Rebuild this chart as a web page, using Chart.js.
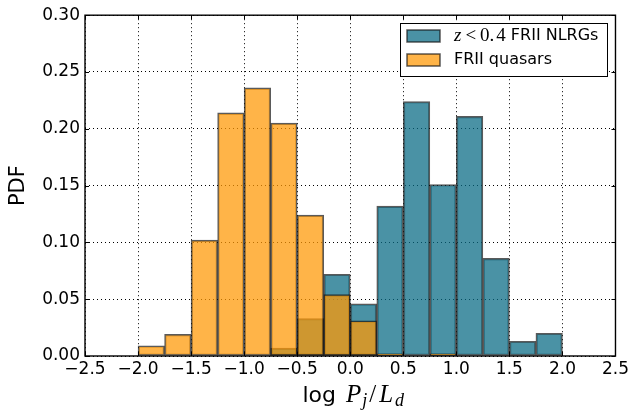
<!DOCTYPE html>
<html>
<head>
<meta charset="utf-8">
<script src="https://cdn.jsdelivr.net/npm/chart.js@4.4.0/dist/chart.umd.min.js"></script>
<style>
html, body { margin: 0; padding: 0; background: #fff; }
#wrap { width: 632px; height: 414px; }
</style>
</head>
<body>
<div id="wrap"><canvas id="pdfChart" width="632" height="414"></canvas></div>
<script>
// histogram bins (centres, width 0.25)
const binCenters = [-2.375, -2.125, -1.875, -1.625, -1.375, -1.125, -0.875, -0.625, -0.375, -0.125,
                    0.125, 0.375, 0.625, 0.875, 1.125, 1.375, 1.625, 1.875, 2.125, 2.375];
const nlrgPdf   = [null, null, null, null, null, null, null, 0.007, 0.033, 0.072,
                   0.046, 0.132, 0.224, 0.151, 0.211, 0.086, 0.013, 0.020, 0, 0];
const quasarPdf = [0, 0, 0.009, 0.019, 0.102, 0.214, 0.236, 0.205, 0.124, 0.054,
                   0.031, 0.002, null, 0.002, null, null, null, null, null, null];
const xTicks = [-2.5, -2.0, -1.5, -1.0, -0.5, 0.0, 0.5, 1.0, 1.5, 2.0, 2.5];
const yTicks = [0.00, 0.05, 0.10, 0.15, 0.20, 0.25, 0.30];

const blueFill = 'rgba(7,105,132,0.73)';
const orangeFill = 'rgba(255,152,4,0.73)';
const edge = 'rgba(20,20,20,0.7)';

function toPoints(vals) {
    return binCenters.map((x, i) => ({ x: x, y: vals[i] }));
}

function minus(v, digits) {
    return v.toFixed(digits).replace('-', '\u2212');
}

// draws a row of text pieces with their own fonts
function drawRuns(ctx, runs, x, y, centered) {
    let total = 0;
    runs.forEach(r => {
        ctx.font = r.font;
        r.w = ctx.measureText(r.text).width + (r.gap || 0);
        total += r.w;
    });
    let cx = centered ? x - total / 2 : x;
    runs.forEach(r => {
        ctx.font = r.font;
        ctx.fillText(r.text, cx, y + (r.dy || 0));
        cx += r.w;
    });
}

const framePlugin = {
    id: 'frame',
    afterDraw(chart) {
        const ctx = chart.ctx;
        const a = chart.chartArea;
        const xs = chart.scales.x, ys = chart.scales.y;
        ctx.save();

        // inward ticks
        ctx.strokeStyle = '#000';
        ctx.lineWidth = 1;
        ctx.beginPath();
        xTicks.forEach(v => {
            const px = Math.round(xs.getPixelForValue(v)) + 0.5;
            ctx.moveTo(px, a.bottom); ctx.lineTo(px, a.bottom - 4);
            ctx.moveTo(px, a.top); ctx.lineTo(px, a.top + 4);
        });
        yTicks.forEach(v => {
            const py = Math.round(ys.getPixelForValue(v)) + 0.5;
            ctx.moveTo(a.left, py); ctx.lineTo(a.left + 4, py);
            ctx.moveTo(a.right, py); ctx.lineTo(a.right - 4, py);
        });
        ctx.stroke();

        // frame
        ctx.lineWidth = 1.4;
        ctx.strokeStyle = '#000';
        ctx.strokeRect(a.left, a.top, a.right - a.left, a.bottom - a.top);

        // x title
        ctx.fillStyle = '#000';
        ctx.textBaseline = 'alphabetic';
        ctx.textAlign = 'left';
        drawRuns(ctx, [
            { text: 'log ', font: '22px "DejaVu Sans"', gap: 3 },
            { text: 'P', font: 'italic 25px "Liberation Serif"', gap: 1 },
            { text: 'j', font: 'italic 18px "Liberation Serif"', dy: 4, gap: 2 },
            { text: '/', font: '25px "Liberation Serif"', gap: 3 },
            { text: 'L', font: 'italic 25px "Liberation Serif"', gap: 2 },
            { text: 'd', font: 'italic 18px "Liberation Serif"', dy: 4 }
        ], (a.left + a.right) / 2 + 3, 402, true);

        // legend box
        const lx = 400, ly = 23, lw = 207, lh = 53;
        ctx.fillStyle = '#fff';
        ctx.fillRect(lx, ly, lw, lh);
        ctx.lineWidth = 1;
        ctx.strokeStyle = '#000';
        ctx.strokeRect(lx + 0.5, ly + 0.5, lw, lh);

        const rows = [
            { fill: blueFill, y: 36, runs: [
                { text: 'z', font: 'italic 19px "Liberation Serif"', gap: 4 },
                { text: '<', font: '19px "Liberation Serif"', gap: 4 },
                { text: '0.', font: '19px "Liberation Serif"', gap: 2 },
                { text: '4', font: '19px "Liberation Serif"', gap: 5 },
                { text: 'FRII NLRGs', font: '16px "DejaVu Sans"' }
            ] },
            { fill: orangeFill, y: 60, runs: [
                { text: 'FRII quasars', font: '16px "DejaVu Sans"' }
            ] }
        ];
        rows.forEach(r => {
            ctx.fillStyle = '#fff';
            ctx.fillRect(407, r.y - 6, 33, 12);
            ctx.fillStyle = r.fill;
            ctx.fillRect(407, r.y - 6, 33, 12);
            ctx.lineWidth = 1.5;
            ctx.strokeStyle = edge;
            ctx.strokeRect(407, r.y - 6, 33, 12);
            ctx.fillStyle = '#000';
            ctx.textBaseline = 'middle';
            drawRuns(ctx, r.runs, 454, r.y, false);
        });
        ctx.restore();
    }
};

const ctx = document.getElementById('pdfChart').getContext('2d');
new Chart(ctx, {
    type: 'bar',
    data: {
        datasets: [
            {
                label: 'FRII quasars',
                data: toPoints(quasarPdf),
                backgroundColor: orangeFill,
                borderColor: edge,
                borderWidth: 1.5,
                borderSkipped: false
            },
            {
                label: 'z < 0.4 FRII NLRGs',
                data: toPoints(nlrgPdf),
                backgroundColor: blueFill,
                borderColor: edge,
                borderWidth: 1.5,
                borderSkipped: false
            }
        ]
    },
    options: {
        responsive: false,
        animation: false,
        grouped: false,
        barPercentage: 1.0,
        categoryPercentage: 1.0,
        layout: { padding: { top: 14, right: 16, left: 0, bottom: 0 } },
        plugins: {
            legend: { display: false },
            tooltip: { enabled: false }
        },
        scales: {
            x: {
                type: 'linear',
                min: -2.5,
                max: 2.5,
                offset: false,
                afterBuildTicks: s => { s.ticks = xTicks.map(v => ({ value: v })); },
                afterFit: s => { s.height = 58; },
                grid: { color: '#000', lineWidth: 1, drawTicks: false, offset: false },
                border: { display: false, dash: [1, 3] },
                ticks: {
                    color: '#000',
                    padding: 3,
                    maxRotation: 0,
                    font: { family: 'DejaVu Sans', size: 17 },
                    callback: v => minus(v, 1)
                }
            },
            y: {
                min: 0,
                max: 0.30,
                afterBuildTicks: s => { s.ticks = yTicks.map(v => ({ value: v })); },
                afterFit: s => { s.width = 85; },
                grid: { color: '#000', lineWidth: 1, drawTicks: false },
                border: { display: false, dash: [1, 3] },
                title: {
                    display: true,
                    text: 'PDF',
                    color: '#000',
                    padding: { top: 6, bottom: 0 },
                    font: { family: 'DejaVu Sans', size: 21 }
                },
                ticks: {
                    color: '#000',
                    padding: 5,
                    font: { family: 'DejaVu Sans', size: 17 },
                    callback: v => v.toFixed(2)
                }
            }
        }
    },
    plugins: [framePlugin]
});
</script>
</body>
</html>
